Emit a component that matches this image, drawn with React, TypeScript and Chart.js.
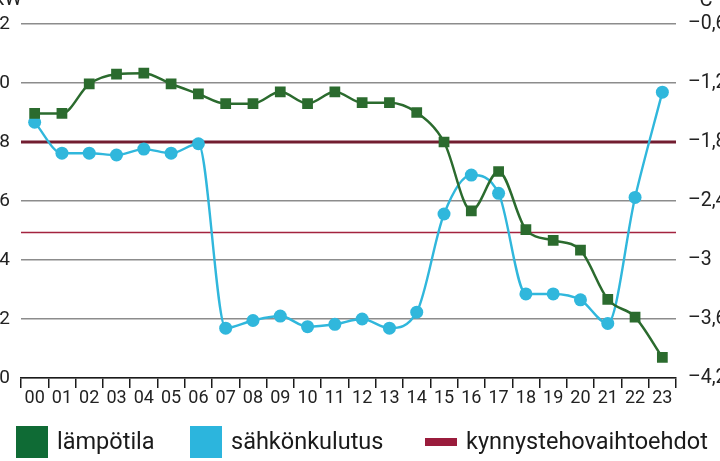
import { useEffect, useRef } from "react";
import { Chart, registerables } from "chart.js";

Chart.register(...registerables);

const hours = ["00", "01", "02", "03", "04", "05", "06", "07", "08", "09", "10", "11",
  "12", "13", "14", "15", "16", "17", "18", "19", "20", "21", "22", "23"];

// lämpötila (°C, right axis)
const temperature = [-1.51, -1.51, -1.21, -1.11, -1.1, -1.21, -1.31, -1.41, -1.41, -1.29, -1.41, -1.29,
  -1.4, -1.4, -1.5, -1.8, -2.5, -2.1, -2.69, -2.8, -2.9, -3.4, -3.58, -3.99];

// sähkönkulutus (kW, left axis)
const consumption = [8.67, 7.62, 7.62, 7.56, 7.76, 7.62, 7.94, 1.69, 1.95, 2.1, 1.74, 1.82,
  2.0, 1.69, 2.23, 5.56, 6.88, 6.26, 2.85, 2.85, 2.65, 1.85, 6.12, 9.69];

// kynnystehovaihtoehdot (kW)
const thresholds = [8, 4.93];

const leftTickLabels = ["0", "2", "4", "6", "8", "10", "12"];
const rightTickLabels = ["–4,2", "–3,6", "–3", "–2,4", "–1,8", "–1,2", "–0,6"];

const legendNames = ["lämpötila", "sähkönkulutus", "kynnystehovaihtoehdot"];

const GREEN = "#2b6b2e";
const CYAN = "#30b7dc";
const FONT = "Roboto";

// canvas is bigger than the window and shifted, so the outer labels get cropped
const OFF_L = 30;
const OFF_T = 20;
const CW = 780;
const CH = 481;

const extras = {
  id: "extras",
  beforeDatasetsDraw(chart: any) {
    const { ctx, chartArea } = chart;
    const y = chart.scales.y;
    ctx.save();
    thresholds.forEach((v, i) => {
      const py = y.getPixelForValue(v);
      ctx.beginPath();
      ctx.strokeStyle = i === 0 ? "#721d30" : "#a3233f";
      ctx.lineWidth = i === 0 ? 3 : 1.6;
      ctx.moveTo(chartArea.left, py);
      ctx.lineTo(chartArea.right, py);
      ctx.stroke();
    });
    ctx.restore();
  },
  afterDraw(chart: any) {
    const { ctx } = chart;
    ctx.save();
    ctx.fillStyle = "#222";
    ctx.font = `20px ${FONT}`;
    ctx.textBaseline = "alphabetic";
    ctx.textAlign = "right";
    ctx.fillText("kW", 52, 25);
    ctx.textAlign = "left";
    ctx.fillText("°C", 722, 26);

    // legend
    const boxX = [16, 190, 425].map((x) => x + OFF_L);
    const cy = 442 + OFF_T;
    const colors = ["#0f6b35", "#2cb5dd", "#9a1c3c"];
    ctx.font = `23.5px ${FONT}`;
    ctx.textBaseline = "middle";
    legendNames.forEach((name, i) => {
      ctx.fillStyle = colors[i];
      if (i < 2) ctx.fillRect(boxX[i], cy - 16, 32, 32);
      else ctx.fillRect(boxX[i], cy - 4, 32, 8);
      ctx.fillStyle = "#1a1a1a";
      ctx.fillText(name, boxX[i] + 41, cy + 1);
    });
    ctx.restore();
  },
};

function HourlyChart() {
  const ref = useRef<HTMLCanvasElement>(null);

  useEffect(() => {
    if (!ref.current) return;
    const chart = new Chart(ref.current, {
      type: "line",
      data: {
        labels: hours,
        datasets: [
          {
            label: legendNames[0],
            data: temperature,
            yAxisID: "y1",
            borderColor: GREEN,
            backgroundColor: GREEN,
            borderWidth: 2.5,
            pointStyle: "rect",
            pointRadius: 7.6,
            pointBorderWidth: 0,
            cubicInterpolationMode: "monotone",
          },
          {
            label: legendNames[1],
            data: consumption,
            yAxisID: "y",
            borderColor: CYAN,
            backgroundColor: CYAN,
            borderWidth: 2.4,
            pointStyle: "circle",
            pointRadius: 6.5,
            pointBorderWidth: 0,
            cubicInterpolationMode: "monotone",
          },
        ],
      },
      options: {
        responsive: false,
        animation: false,
        layout: { padding: { top: 44, left: 0, right: 0, bottom: 0 } },
        scales: {
          x: {
            offset: true,
            grid: {
              offset: true,
              drawOnChartArea: false,
              drawTicks: true,
              tickLength: 10,
              color: "#1a1a1a",
              lineWidth: 1.5,
            },
            border: { display: true, color: "#1a1a1a", width: 1.5 },
            ticks: {
              padding: 0,
              color: "#222",
              font: { family: FONT, size: 18 },
              maxRotation: 0,
              autoSkip: false,
            },
            afterFit: (s: any) => {
              s.height = CH - (378 + OFF_T);
            },
          },
          y: {
            position: "left",
            min: 0,
            max: 12,
            ticks: {
              stepSize: 2,
              padding: 11,
              color: "#222",
              font: { family: FONT, size: 19 },
              callback: (_v: any, i: number) => leftTickLabels[i],
            },
            grid: { color: "#8c8c8c", lineWidth: 1.5, drawTicks: false },
            border: { display: false },
            afterFit: (s: any) => {
              s.width = 21 + OFF_L;
            },
          },
          y1: {
            position: "right",
            min: -4.2,
            max: -0.6,
            ticks: {
              stepSize: 0.6,
              padding: 12,
              color: "#222",
              font: { family: FONT, size: 19.5 },
              callback: (_v: any, i: number) => rightTickLabels[i],
            },
            grid: { display: false, drawTicks: false },
            border: { display: false },
            afterFit: (s: any) => {
              s.width = CW - (676 + OFF_L);
            },
          },
        },
        plugins: {
          tooltip: { enabled: false },
          legend: { display: false },
        },
      },
      plugins: [extras],
    });
    return () => {
      chart.destroy();
    };
  }, []);

  return (
    <canvas
      ref={ref}
      width={CW}
      height={CH}
      style={{ position: "absolute", left: -OFF_L, top: -OFF_T, width: CW, height: CH }}
    />
  );
}

export default function App() {
  return (
    <div
      style={{
        position: "fixed",
        left: 0,
        top: 0,
        width: 720,
        height: 461,
        overflow: "hidden",
        background: "#fff",
      }}
    >
      <HourlyChart />
    </div>
  );
}
